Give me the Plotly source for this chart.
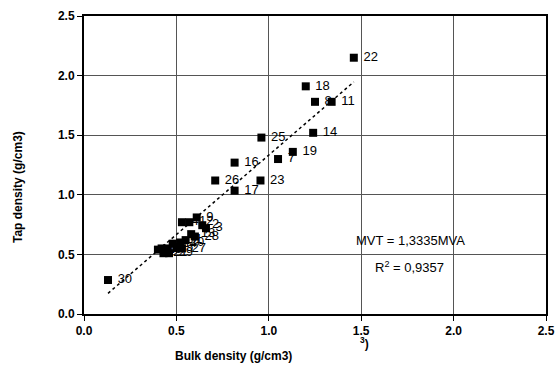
import plotly.graph_objects as go

# Sample numbers and measured densities (g/cm3)
sample_ids = ["22", "18", "8", "11", "14", "25", "19", "7", "16", "26", "23", "17", "30",
              "9", "12", "4", "2", "3", "13", "28", "1", "20", "24", "5", "6", "27", "15",
              "10", "21", "29"]
bulk_density = [1.46, 1.20, 1.25, 1.34, 1.24, 0.96, 1.13, 1.05, 0.815, 0.71, 0.955, 0.815, 0.13,
                0.61, 0.57, 0.53, 0.64, 0.66, 0.58, 0.60, 0.55, 0.52, 0.48, 0.50, 0.45, 0.53,
                0.42, 0.40, 0.43, 0.46]
tap_density = [2.15, 1.91, 1.78, 1.78, 1.52, 1.48, 1.36, 1.30, 1.27, 1.12, 1.12, 1.035, 0.285,
               0.81, 0.77, 0.77, 0.745, 0.72, 0.67, 0.65, 0.62, 0.60, 0.59, 0.56, 0.55, 0.55,
               0.55, 0.54, 0.51, 0.51]

slope = 1.3335
r_squared = "0,9357"
tick_vals = [0.0, 0.5, 1.0, 1.5, 2.0, 2.5]
tick_text = ["0.0", "0.5", "1.0", "1.5", "2.0", "2.5"]

FONT = "Liberation Sans, Arial, sans-serif"

fig = go.Figure()

# trendline through origin over the data range
x0, x1 = min(bulk_density), max(bulk_density)
fig.add_trace(go.Scatter(
    x=[x0, x1], y=[slope * x0, slope * x1], mode="lines",
    line=dict(color="black", width=1.5, dash="dot"), hoverinfo="skip", showlegend=False))

fig.add_trace(go.Scatter(
    x=bulk_density, y=tap_density, mode="markers+text",
    text=[" " + s for s in sample_ids], textposition="middle right",
    textfont=dict(family=FONT, size=13, color="black"),
    marker=dict(symbol="square", size=8, color="black"),
    showlegend=False))

axis_common = dict(
    range=[0, 2.5], tickvals=tick_vals, ticktext=tick_text,
    showgrid=True, gridcolor="#555555", gridwidth=1,
    showline=True, linecolor="black", linewidth=2, mirror=True,
    ticks="outside", ticklen=5, tickcolor="black", tickwidth=1,
    zeroline=False, automargin=False,
    tickfont=dict(family=FONT, size=12, color="black", weight="bold"),
)

fig.update_xaxes(**axis_common)
fig.update_yaxes(**axis_common)

W, H = 558, 369
L, R, T, B = 84, 12, 16, 55

fig.update_layout(
    width=W, height=H,
    margin=dict(l=L, r=R, t=T, b=B),
    paper_bgcolor="white", plot_bgcolor="white",
    font=dict(family=FONT, color="black"),
)

pw, ph = W - L - R, H - T - B
def px(xp, yp):
    return (xp - L) / pw, (H - B - yp) / ph

ann_specs = [
    ("<b>Bulk density (g/cm3)</b>", (233, 356), 0, dict(size=12)),
    ("<b>Tap density (g/cm3)</b>", (18, 187), -90, dict(size=12)),
    ("MVT = 1,3335MVA", (410, 240), 0, dict(size=13)),
    ("R<sup>2</sup> = " + r_squared, (409, 267), 0, dict(size=13)),
    ("<b><sup>3</sup>)</b>", (364, 343), 0, dict(size=12)),
]
for text, (xp, yp), ang, fnt in ann_specs:
    xa, ya = px(xp, yp)
    fig.add_annotation(text=text, x=xa, y=ya, xref="paper", yref="paper",
                       xanchor="center", yanchor="middle", textangle=ang,
                       showarrow=False, font=fnt)

fig.write_html("out.html", config={"displayModeBar": False},
               post_script="document.body.style.margin='0';document.body.style.overflow='hidden';")
